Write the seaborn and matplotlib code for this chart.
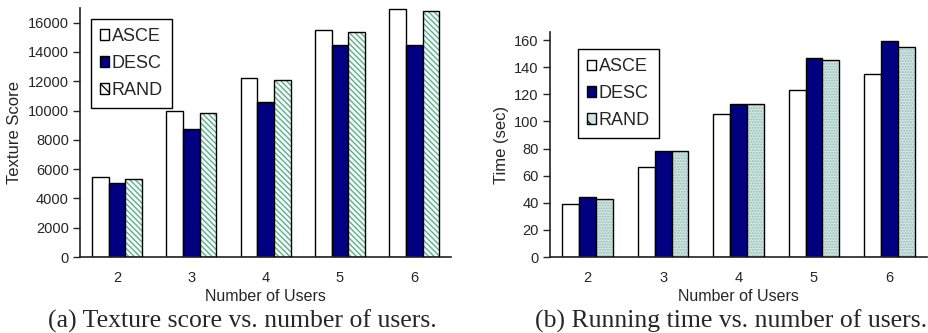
import numpy as np
import pandas as pd
import matplotlib
matplotlib.use('Agg')
import matplotlib.pyplot as plt
from matplotlib.patches import Patch, Rectangle
import seaborn as sns

sns.set_style('white')
plt.rcParams['font.family'] = ['Liberation Sans', 'DejaVu Sans']
plt.rcParams['hatch.linewidth'] = 0.9

# data
users = ['2', '3', '4', '5', '6']
methods = ['ASCE', 'DESC', 'RAND']
texture_asce = [5450, 10000, 12200, 15500, 16950]
texture_desc = [5070, 8730, 10560, 14480, 14500]
texture_rand = [5300, 9830, 12070, 15380, 16800]
time_asce = [39.5, 66.7, 105.4, 123.3, 135.0]
time_desc = [44.5, 78.5, 113.0, 147.0, 159.6]
time_rand = [42.5, 78.2, 112.6, 145.6, 154.8]


def long_df(a, d, r):
    return pd.DataFrame({
        'users': users * 3,
        'method': ['ASCE'] * 5 + ['DESC'] * 5 + ['RAND'] * 5,
        'value': a + d + r,
    })


NAVY = '#000080'


def bar_panel(ax, df, rand_face, rand_hatch, rand_hcolor, ylim, yticks, ylabel,
              leg_anchor):
    sns.barplot(data=df, x='users', y='value', hue='method', order=users,
                hue_order=methods, palette=['white', NAVY, rand_face],
                saturation=1, width=0.67, gap=0, edgecolor='black',
                linewidth=1.0, legend=False, ax=ax, errorbar=None)
    # hatch the RAND bars, then put a black outline back on top
    for p in ax.containers[2]:
        p.set_hatch(rand_hatch)
        p.set_edgecolor(rand_hcolor)
        p.set_linewidth(0)
        ax.add_patch(Rectangle(p.get_xy(), p.get_width(), p.get_height(),
                               fill=False, ec='black', lw=1.0, zorder=3))
    ax.set_xlim(-0.5, 4.5)
    ax.set_ylim(*ylim)
    ax.set_yticks(yticks)
    ax.set_xticks(range(5), users)
    ax.set_xticks(np.arange(-0.5, 5, 1), minor=True)
    ax.tick_params(axis='x', which='major', length=0, labelsize=10.5, pad=10)
    ax.tick_params(axis='x', which='minor', length=5, width=1, direction='out')
    ax.tick_params(axis='y', length=5, width=1, direction='out', labelsize=10.5,
                   left=True, pad=3)
    for s in ['top', 'right']:
        ax.spines[s].set_visible(False)
    for s in ['left', 'bottom']:
        ax.spines[s].set_color('#222222')
        ax.spines[s].set_linewidth(1.2)
    ax.set_xlabel('Number of Users', fontsize=11.5, labelpad=3)
    ax.set_ylabel(ylabel, fontsize=12, labelpad=4)

    handles = [Patch(facecolor='white', edgecolor='black', lw=1),
               Patch(facecolor=NAVY, edgecolor='black', lw=1),
               Patch(facecolor=rand_face, edgecolor='black', lw=1, hatch='\\\\')]
    leg = ax.legend(handles, methods, loc='upper left', bbox_to_anchor=leg_anchor,
                    borderaxespad=0, fontsize=13, handlelength=0.5,
                    handleheight=0.5, handletextpad=0.15, labelspacing=0.55,
                    borderpad=0.5, fancybox=False, framealpha=1)
    leg.get_frame().set_edgecolor('black')
    leg.get_frame().set_linewidth(1.0)


fig = plt.figure(figsize=(9.29, 3.33), dpi=100)
ax1 = fig.add_axes([0.086, 0.228, 0.400, 0.748])
ax2 = fig.add_axes([0.592, 0.228, 0.406, 0.676])

bar_panel(ax1, long_df(texture_asce, texture_desc, texture_rand),
          '#f2faf6', '\\\\\\\\\\\\', '#58a888', (0, 17000),
          range(0, 16001, 2000), 'Texture Score', (0.03, 0.956))
bar_panel(ax2, long_df(time_asce, time_desc, time_rand),
          '#cfe5e1', '......', '#97bcb7', (0, 166),
          range(0, 161, 20), 'Time (sec)', (0.074, 0.924))

fig.text(0.052, 0.016, '(a) Texture score vs. number of users.',
         family='Liberation Serif', fontsize=18.5, ha='left', va='baseline')
fig.text(0.998, 0.016, '(b) Running time vs. number of users.',
         family='Liberation Serif', fontsize=18.5, ha='right', va='baseline')

fig.savefig('out.png', dpi=100)
